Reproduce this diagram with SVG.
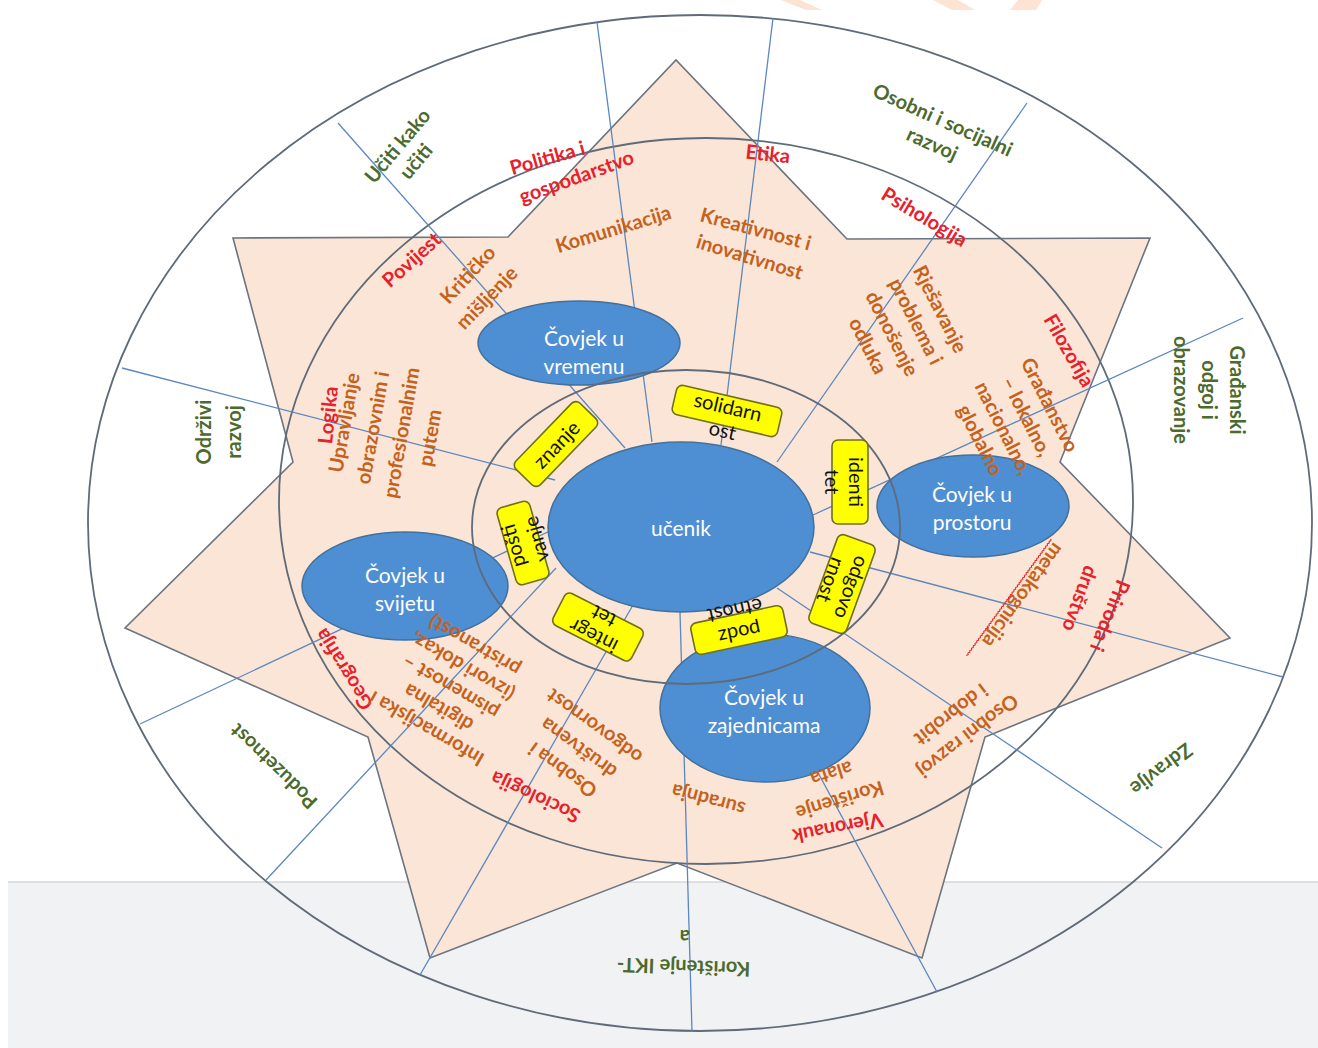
<svg xmlns="http://www.w3.org/2000/svg" width="1318" height="1048" viewBox="0 0 1318 1048">
<style>
text{font-family:Lato,"Noto Sans","DejaVu Sans",sans-serif;text-anchor:middle;dominant-baseline:central}
.g{font-weight:bold;font-size:20px;fill:#4b6a2c}
.r{font-weight:bold;font-size:20px;fill:#e8202b}
.o{font-weight:bold;font-size:20px;fill:#c4621d}
.w{font-size:21px;fill:#ffffff}
.k{font-size:20px;fill:#111111}
.ln{stroke:#5b87bf;stroke-width:1.3;fill:none}
.el{fill:none;stroke:#5f6b78;stroke-width:1.8}
.be{fill:#4e8ed2;stroke:#41719c;stroke-width:1.5}
.bx{fill:#ffff00;stroke:#6f6f1e;stroke-width:1.6}
</style>
<rect width="1318" height="1048" fill="#ffffff"/>
<rect x="8" y="882" width="1310" height="166" fill="#f1f2f3"/>
<line x1="8" y1="882" x2="1318" y2="882" stroke="#c3c6ca" stroke-width="1.2"/>
<g id="watermark" fill="#fde3d2">
<polygon points="781,0 800,0 822,10 806,10"/>
<polygon points="933,0 958,0 975,10 952,10"/>
<polygon points="1018,0 1042,0 1036,10 1010,10"/>
</g>
<polygon id="star" points="233,238 508,237 676,60 847,239 1150,238 1060,462 1230,638 985,737 922,958 677,863 430,958 368,737 125,628 293,462" fill="#fbe5d6" stroke="#6b7480" stroke-width="1.6" stroke-linejoin="miter"/>
<ellipse id="outer-ring" class="el" cx="700" cy="523" rx="612" ry="508"/>
<ellipse id="middle-ring" class="el" cx="706" cy="501" rx="427" ry="363"/>
<g id="connectors">
<line class="ln" x1="652" y1="442" x2="597" y2="22"/>
<line class="ln" x1="721" y1="445" x2="773" y2="18"/>
<line class="ln" x1="777" y1="462" x2="1027" y2="103"/>
<line class="ln" x1="813" y1="515" x2="1243" y2="318"/>
<line class="ln" x1="810" y1="552" x2="1283" y2="677"/>
<line class="ln" x1="777" y1="588" x2="1162" y2="848"/>
<line class="ln" x1="680" y1="612" x2="692" y2="1032"/>
<line class="ln" x1="727" y1="605" x2="937" y2="992"/>
<line class="ln" x1="633" y1="605" x2="420" y2="975"/>
<line class="ln" x1="556" y1="568" x2="266" y2="880"/>
<line class="ln" x1="552" y1="530" x2="140" y2="724"/>
<line class="ln" x1="555" y1="480" x2="122" y2="368"/>
<line class="ln" x1="625" y1="448" x2="338" y2="123"/>
</g>
<g id="node-vremenu"><ellipse class="be" cx="579" cy="343" rx="101" ry="42"/><text class="w" x="584" y="337">Čovjek u</text><text class="w" x="584" y="365">vremenu</text></g>
<g id="node-prostoru"><ellipse class="be" cx="973" cy="506" rx="96" ry="51"/><text class="w" x="972" y="493">Čovjek u</text><text class="w" x="972" y="521">prostoru</text></g>
<g id="node-svijetu"><ellipse class="be" cx="405" cy="586" rx="103" ry="54"/><text class="w" x="405" y="574">Čovjek u</text><text class="w" x="405" y="602">svijetu</text></g>
<g id="node-zajednicama"><ellipse class="be" cx="765" cy="708" rx="105" ry="74"/><text class="w" x="764" y="696">Čovjek u</text><text class="w" x="764" y="724">zajednicama</text></g>
<g id="labels-outer">
<text class="g" transform="translate(406 153) rotate(-50)"><tspan x="0" y="-12">Učiti kako</tspan><tspan x="0" y="12">učiti</tspan></text>
<text class="g" transform="translate(938 131) rotate(24)"><tspan x="0" y="-13">Osobni i socijalni</tspan><tspan x="0" y="13">razvoj</tspan></text>
<text class="g" transform="translate(1210 390) rotate(90)"><tspan x="0" y="-28">Građanski</tspan><tspan x="0" y="0">odgoj i</tspan><tspan x="0" y="28">obrazovanje</tspan></text>
<text class="g" transform="translate(218 432) rotate(-90)"><tspan x="0" y="-15">Održivi</tspan><tspan x="0" y="15">razvoj</tspan></text>
<text class="g" transform="translate(1162 770) rotate(143)">Zdravlje</text>
<text class="g" transform="translate(273 767) rotate(-136)">Poduzetnost</text>
<text class="g" transform="translate(684 953) rotate(182)"><tspan x="0" y="-15">Korištenje IKT-</tspan><tspan x="0" y="15">a</tspan></text>
</g>
<g id="labels-subjects">
<text class="r" transform="translate(547 157) rotate(-16)">Politika i</text>
<text class="r" transform="translate(576 176) rotate(-20)">gospodarstvo</text>
<text class="r" transform="translate(768 153) rotate(6)">Etika</text>
<text class="r" transform="translate(925 216) rotate(31)">Psihologija</text>
<text class="r" transform="translate(1070 350) rotate(60)">Filozofija</text>
<text class="r" transform="translate(1111 616) rotate(112)">Priroda i</text>
<text class="r" transform="translate(1081 599) rotate(110)">društvo</text>
<text class="r" transform="translate(327 415) rotate(-84)">Logika</text>
<text class="r" transform="translate(411 259) rotate(-42)">Povijest</text>
<text class="r" transform="translate(343 670) rotate(-122)">Geografija</text>
<text class="r" transform="translate(535 798) rotate(-155)">Sociologija</text>
<text class="r" transform="translate(838 829) rotate(169)">Vjeronauk</text>
</g>
<g id="labels-competences">
<text class="o" transform="translate(613 228) rotate(-17)">Komunikacija</text>
<text class="o" transform="translate(756 228) rotate(15)">Kreativnost i</text>
<text class="o" transform="translate(750 256) rotate(17)">inovativnost</text>
<text class="o" transform="translate(467 274) rotate(-47)">Kritičko</text>
<text class="o" transform="translate(486 297) rotate(-46)">mišljenje</text>
<text class="o" transform="translate(905 327) rotate(63)"><tspan x="0" y="-40.5">Rješavanje</tspan><tspan x="0" y="-13.5">problema i</tspan><tspan x="0" y="13.5">donošenje</tspan><tspan x="0" y="40.5">odluka</tspan></text>
<text class="o" transform="translate(1016 422) rotate(63)"><tspan x="0" y="-39">Građanstvo</tspan><tspan x="0" y="-13">– lokalno,</tspan><tspan x="0" y="13">nacionalno,</tspan><tspan x="0" y="39">globalno</tspan></text>
<g transform="translate(1024 596) rotate(126)">
<text class="o">metakognicija</text>
<path d="M-62 12 l1.5 -1.5 l1.5 1.5 l1.5 -1.5 l1.5 1.5 l1.5 -1.5 l1.5 1.5 l1.5 -1.5 l1.5 1.5 l1.5 -1.5 l1.5 1.5 l1.5 -1.5 l1.5 1.5 l1.5 -1.5 l1.5 1.5 l1.5 -1.5 l1.5 1.5 l1.5 -1.5 l1.5 1.5 l1.5 -1.5 l1.5 1.5 l1.5 -1.5 l1.5 1.5 l1.5 -1.5 l1.5 1.5 l1.5 -1.5 l1.5 1.5 l1.5 -1.5 l1.5 1.5 l1.5 -1.5 l1.5 1.5 l1.5 -1.5 l1.5 1.5 l1.5 -1.5 l1.5 1.5 l1.5 -1.5 l1.5 1.5 l1.5 -1.5 l1.5 1.5 l1.5 -1.5 l1.5 1.5 l1.5 -1.5 l1.5 1.5 l1.5 -1.5 l1.5 1.5 l1.5 -1.5 l1.5 1.5 l1.5 -1.5 l1.5 1.5 l1.5 -1.5 l1.5 1.5 l1.5 -1.5 l1.5 1.5 l1.5 -1.5 l1.5 1.5 l1.5 -1.5 l1.5 1.5 l1.5 -1.5 l1.5 1.5 l1.5 -1.5 l1.5 1.5 l1.5 -1.5 l1.5 1.5 l1.5 -1.5 l1.5 1.5 l1.5 -1.5 l1.5 1.5 l1.5 -1.5 l1.5 1.5 l1.5 -1.5 l1.5 1.5 l1.5 -1.5 l1.5 1.5 l1.5 -1.5 l1.5 1.5 l1.5 -1.5 l1.5 1.5 l1.5 -1.5 l1.5 1.5 l1.5 -1.5 l1.5 1.5 l1.5 -1.5 l1.5 1.5 l1.5 -1.5 l1.5 1.5 l1.5 -1.5 l1.5 1.5 l1.5 -1.5 l1.5 1.5 l1.5 -1.5 l1.5 1.5 l1.5 -1.5 l1.5 1.5 l1.5 -1.5 l1.5 1.5 l1.5 -1.5 l1.5 1.5" fill="none" stroke="#e02020" stroke-width="0.9"/>
</g>
<text class="o" transform="translate(386 430) rotate(-80)"><tspan x="0" y="-43.5">Upravljanje</tspan><tspan x="0" y="-14.5">obrazovnim i</tspan><tspan x="0" y="14.5">profesionalnim</tspan><tspan x="0" y="43.5">putem</tspan></text>
<text class="o" transform="translate(450 688) rotate(210)"><tspan x="0" y="-48">Informacijska i</tspan><tspan x="0" y="-24">digitalna</tspan><tspan x="0" y="0">pismenost –</tspan><tspan x="0" y="24">(izvori dokaz,</tspan><tspan x="0" y="48">pristranost)</tspan></text>
<text class="o" transform="translate(578 749) rotate(216)"><tspan x="0" y="-27">Osobna i</tspan><tspan x="0" y="0">društvena</tspan><tspan x="0" y="27">odgovornost</tspan></text>
<text class="o" transform="translate(708 801) rotate(195)">suradnja</text>
<text class="o" transform="translate(836 788) rotate(163)"><tspan x="0" y="-14">Korištenje</tspan><tspan x="0" y="14">alata</tspan></text>
<text class="o" transform="translate(960 726) rotate(142)"><tspan x="0" y="-13.5">Osobni razvoj</tspan><tspan x="0" y="13.5">i dobrobit</tspan></text>
</g>
<ellipse id="inner-ring" class="el" cx="686" cy="527" rx="214" ry="157"/>
<g id="node-ucenik"><ellipse class="be" cx="681" cy="527" rx="133" ry="85"/><text class="w" x="681" y="527">učenik</text></g>
<g id="box-znanje" transform="translate(556 444) rotate(-46)"><rect class="bx" x="-46" y="-17" width="92" height="34" rx="6"/><text class="k" y="0">znanje</text></g>
<g id="box-solidarnost" transform="translate(727 411) rotate(13)"><rect class="bx" x="-54" y="-15" width="108" height="30" rx="6"/><text class="k"><tspan x="0" y="-5">solidarn</tspan><tspan x="0" y="19">ost</tspan></text></g>
<g id="box-identitet" transform="translate(850 482) rotate(90)"><rect class="bx" x="-42" y="-18" width="84" height="36" rx="6"/><text class="k"><tspan x="0" y="-7">identi</tspan><tspan x="0" y="17">tet</tspan></text></g>
<g id="box-odgovornost" transform="translate(842 584) rotate(110)"><rect class="bx" x="-47" y="-20" width="94" height="40" rx="6"/><text class="k"><tspan x="0" y="-11">odgovo</tspan><tspan x="0" y="11">rnost</tspan></text></g>
<g id="box-poduzetnost" transform="translate(739 630) rotate(168)"><rect class="bx" x="-47" y="-16" width="94" height="32" rx="6"/><text class="k"><tspan x="0" y="-4">podz</tspan><tspan x="0" y="19">etnost</tspan></text></g>
<g id="box-integritet" transform="translate(598 627) rotate(207)"><rect class="bx" x="-44" y="-18" width="88" height="36" rx="6"/><text class="k"><tspan x="0" y="-11">integr</tspan><tspan x="0" y="11">tet</tspan></text></g>
<g id="box-postivanje" transform="translate(523 543) rotate(-106)"><rect class="bx" x="-40" y="-17" width="80" height="34" rx="6"/><text class="k"><tspan x="0" y="-11">pošti</tspan><tspan x="0" y="13">vanje</tspan></text></g>
</svg>
